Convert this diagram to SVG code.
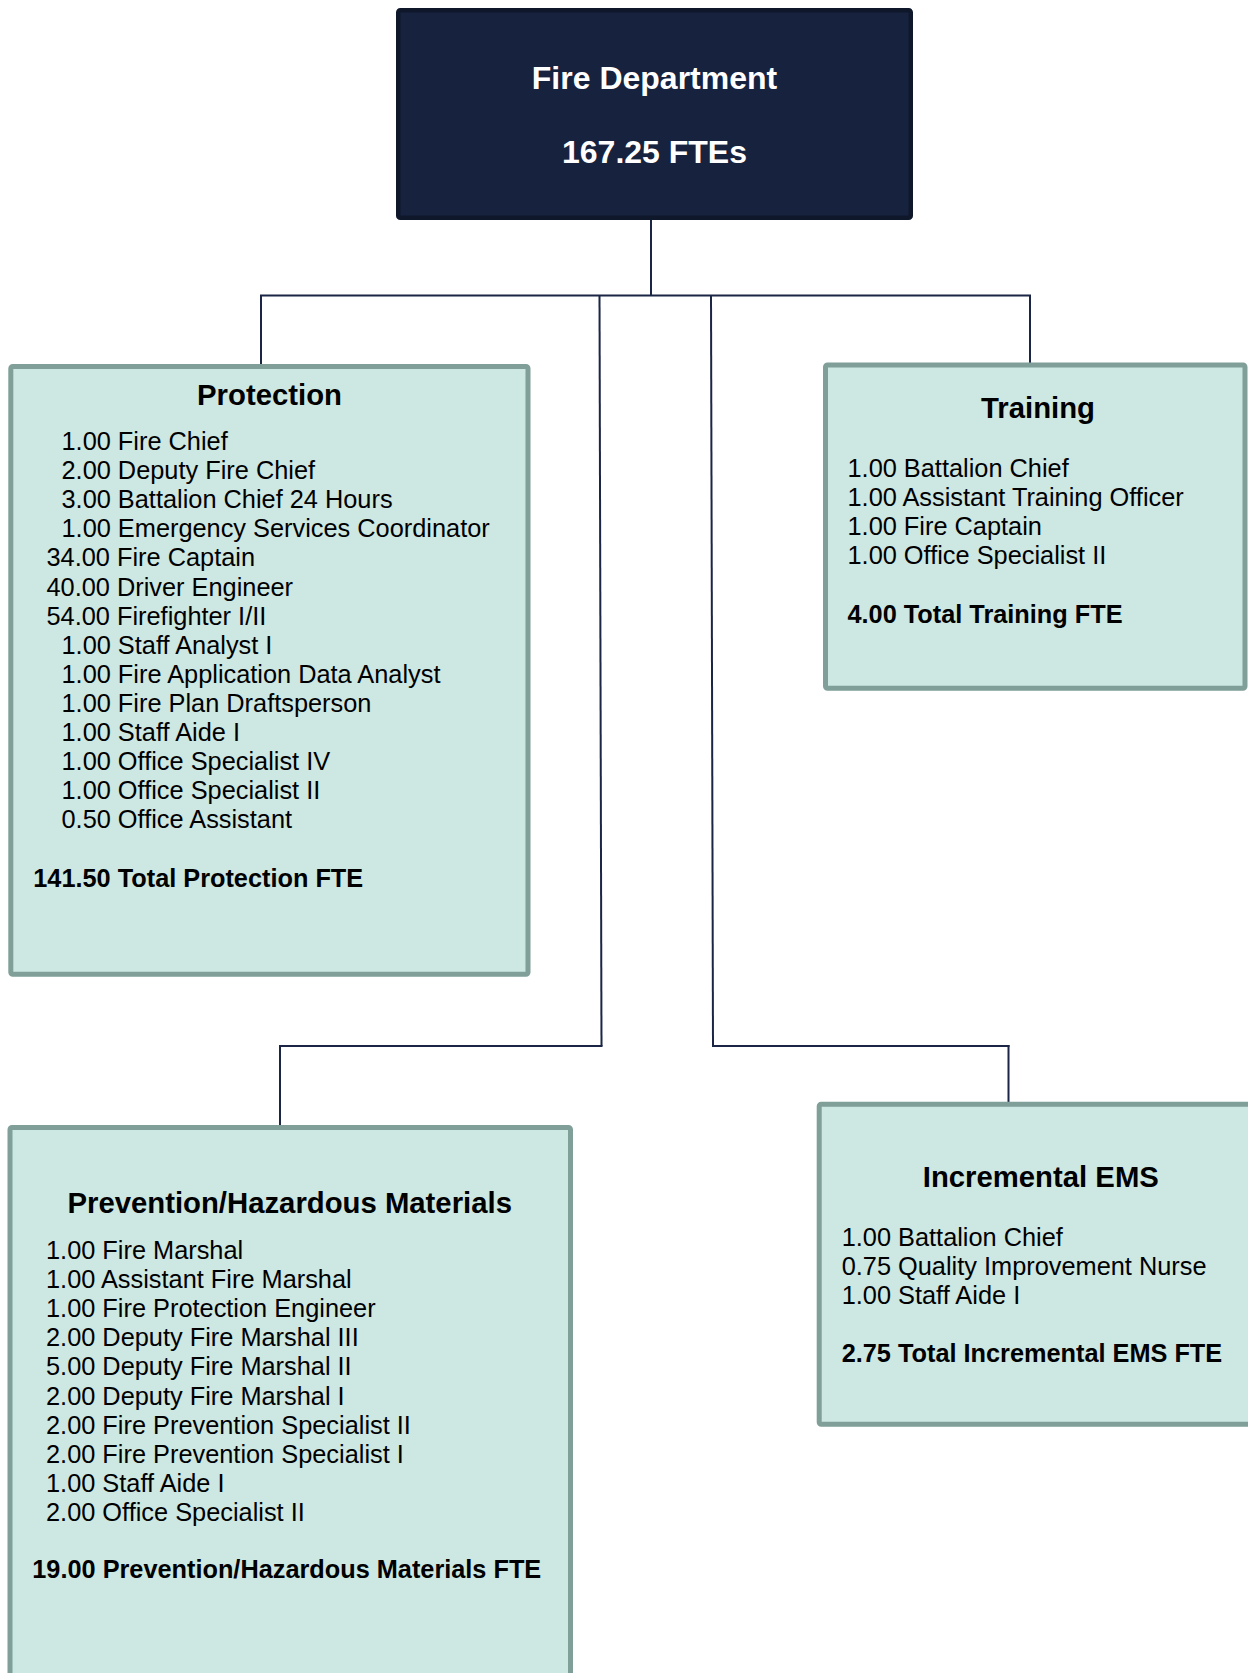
<svg xmlns="http://www.w3.org/2000/svg" width="1248" height="1673" viewBox="0 0 1248 1673">
<style>
.box{fill:#cde7e2;stroke:#7f9f98;stroke-width:5}
.top{fill:#17223f;stroke:#0f172b;stroke-width:4.5}
.conn{stroke:#1b2545;stroke-width:2;fill:none}
.t{font-family:"Liberation Sans",Arial,sans-serif;fill:#000}
.title{font-size:29.3px;font-weight:bold;text-anchor:middle}
.item{font-size:25.35px}
.tot{font-size:25.3px;font-weight:bold}
.head{font-family:"Liberation Sans",Arial,sans-serif;font-size:32px;font-weight:bold;fill:#fff;text-anchor:middle}
</style>
<rect width="1248" height="1673" fill="#fff"/>
<g id="connectors">
<line class="conn" x1="651" y1="220" x2="651" y2="295.5"/>
<line class="conn" x1="260" y1="295.5" x2="1031" y2="295.5"/>
<line class="conn" x1="261" y1="295.5" x2="261" y2="365"/>
<line class="conn" x1="1030" y1="295.5" x2="1030" y2="364"/>
<line class="conn" x1="599.5" y1="295.5" x2="601.5" y2="1046"/>
<line class="conn" x1="711" y1="295.5" x2="713" y2="1046"/>
<line class="conn" x1="279" y1="1046" x2="602.5" y2="1046"/>
<line class="conn" x1="280" y1="1045" x2="280" y2="1126"/>
<line class="conn" x1="712" y1="1046" x2="1009.5" y2="1046"/>
<line class="conn" x1="1008.5" y1="1045" x2="1008.5" y2="1103"/>
</g>
<g id="fire-department">
<rect class="top" x="398.25" y="10.25" width="512.5" height="207.5" rx="2"/>
<text class="head" x="654.5" y="89.3">Fire Department</text>
<text class="head" x="654.5" y="163.3">167.25 FTEs</text>
</g>
<g id="protection">
<rect class="box" x="10.8" y="366.5" width="517.2" height="607.7" rx="2"/>
<text class="t title" x="269.5" y="405">Protection</text>
<text class="t item" x="61.5" y="450">1.00 Fire Chief</text>
<text class="t item" x="61.5" y="479.1">2.00 Deputy Fire Chief</text>
<text class="t item" x="61.5" y="508.2">3.00 Battalion Chief 24 Hours</text>
<text class="t item" x="61.5" y="537.3">1.00 Emergency Services Coordinator</text>
<text class="t item" x="46.5" y="566.4">34.00 Fire Captain</text>
<text class="t item" x="46.5" y="595.5">40.00 Driver Engineer</text>
<text class="t item" x="46.5" y="624.6">54.00 Firefighter I/II</text>
<text class="t item" x="61.5" y="653.7">1.00 Staff Analyst I</text>
<text class="t item" x="61.5" y="682.8">1.00 Fire Application Data Analyst</text>
<text class="t item" x="61.5" y="711.9">1.00 Fire Plan Draftsperson</text>
<text class="t item" x="61.5" y="741">1.00 Staff Aide I</text>
<text class="t item" x="61.5" y="770.1">1.00 Office Specialist IV</text>
<text class="t item" x="61.5" y="799.2">1.00 Office Specialist II</text>
<text class="t item" x="61.5" y="828.3">0.50 Office Assistant</text>
<text class="t tot" x="33.3" y="886.7">141.50 Total Protection FTE</text>
</g>
<g id="training">
<rect class="box" x="825.5" y="365" width="419.5" height="323.2" rx="2"/>
<text class="t title" x="1038" y="418">Training</text>
<text class="t item" x="847.5" y="476.7">1.00 Battalion Chief</text>
<text class="t item" x="847.5" y="505.8">1.00 Assistant Training Officer</text>
<text class="t item" x="847.5" y="534.9">1.00 Fire Captain</text>
<text class="t item" x="847.5" y="564">1.00 Office Specialist II</text>
<text class="t tot" x="847.5" y="622.7">4.00 Total Training FTE</text>
</g>
<g id="prevention">
<rect class="box" x="10" y="1127.5" width="560.5" height="600" rx="2"/>
<text class="t title" x="289.7" y="1212.7">Prevention/Hazardous Materials</text>
<text class="t item" x="46" y="1259">1.00 Fire Marshal</text>
<text class="t item" x="46" y="1288.1">1.00 Assistant Fire Marshal</text>
<text class="t item" x="46" y="1317.2">1.00 Fire Protection Engineer</text>
<text class="t item" x="46" y="1346.3">2.00 Deputy Fire Marshal III</text>
<text class="t item" x="46" y="1375.4">5.00 Deputy Fire Marshal II</text>
<text class="t item" x="46" y="1404.5">2.00 Deputy Fire Marshal I</text>
<text class="t item" x="46" y="1433.6">2.00 Fire Prevention Specialist II</text>
<text class="t item" x="46" y="1462.7">2.00 Fire Prevention Specialist I</text>
<text class="t item" x="46" y="1491.8">1.00 Staff Aide I</text>
<text class="t item" x="46" y="1520.9">2.00 Office Specialist II</text>
<text class="t tot" x="32.3" y="1578.3">19.00 Prevention/Hazardous Materials FTE</text>
</g>
<g id="incremental-ems">
<rect class="box" x="819.2" y="1104.2" width="440" height="320" rx="2"/>
<text class="t title" x="1040.8" y="1186.7">Incremental EMS</text>
<text class="t item" x="841.7" y="1245.7">1.00 Battalion Chief</text>
<text class="t item" x="841.7" y="1274.9">0.75 Quality Improvement Nurse</text>
<text class="t item" x="841.7" y="1304">1.00 Staff Aide I</text>
<text class="t tot" x="841.7" y="1362.3">2.75 Total Incremental EMS FTE</text>
</g>
</svg>
